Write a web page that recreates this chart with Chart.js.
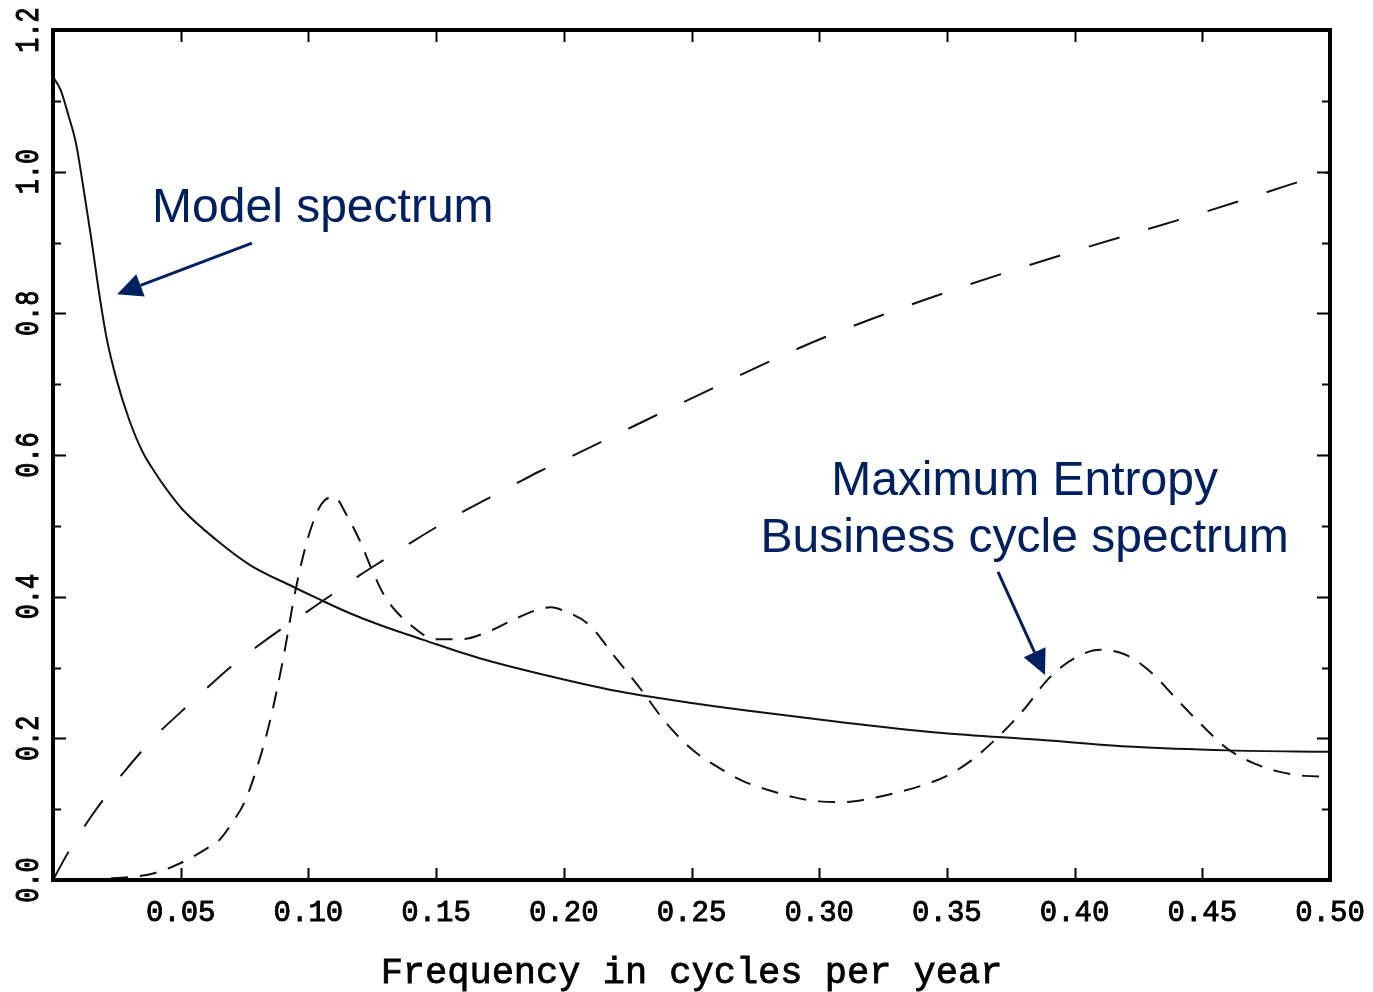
<!DOCTYPE html>
<html>
<head>
<meta charset="utf-8">
<script src="https://cdn.jsdelivr.net/npm/chart.js@4.4.1/dist/chart.umd.min.js"></script>
<style>
  html, body { margin: 0; padding: 0; background: #fff; }
  canvas { display: block; }
</style>
</head>
<body>
<canvas id="spectrum" width="1373" height="992"></canvas>
<script>
// Model spectrum (solid line)
const modelFreq  = [0.000, 0.003, 0.006, 0.009, 0.012, 0.015, 0.018, 0.021, 0.025, 0.030, 0.035, 0.040,
                    0.045, 0.051, 0.064, 0.077, 0.094, 0.105, 0.116, 0.128, 0.145, 0.167, 0.193, 0.219,
                    0.250, 0.270, 0.308, 0.347, 0.386, 0.423, 0.460, 0.500];
const modelPower = [1.134, 1.115, 1.080, 1.040, 0.975, 0.905, 0.830, 0.765, 0.705, 0.648, 0.605, 0.575,
                    0.549, 0.522, 0.480, 0.445, 0.414, 0.395, 0.377, 0.360, 0.339, 0.313, 0.289, 0.268,
                    0.250, 0.240, 0.223, 0.208, 0.198, 0.188, 0.183, 0.181];

// Maximum entropy business cycle spectrum (short dashes)
const entropyFreq  = [0.000, 0.010, 0.020, 0.030, 0.040, 0.050, 0.060, 0.065, 0.070, 0.075, 0.080, 0.085,
                      0.090, 0.095, 0.100, 0.105, 0.110, 0.115, 0.120, 0.125, 0.130, 0.140, 0.150, 0.160,
                      0.170, 0.180, 0.190, 0.195, 0.200, 0.210, 0.220, 0.230, 0.240, 0.250, 0.260, 0.270,
                      0.280, 0.290, 0.300, 0.310, 0.320, 0.330, 0.340, 0.350, 0.360, 0.370, 0.380, 0.390,
                      0.400, 0.410, 0.420, 0.430, 0.440, 0.450, 0.460, 0.470, 0.480, 0.490, 0.500];
const entropyPower = [0.000, 0.000, 0.002, 0.004, 0.010, 0.024, 0.044, 0.056, 0.080, 0.110, 0.160, 0.225,
                      0.310, 0.410, 0.485, 0.530, 0.541, 0.515, 0.480, 0.437, 0.400, 0.360, 0.340, 0.340,
                      0.350, 0.367, 0.382, 0.385, 0.380, 0.360, 0.315, 0.270, 0.222, 0.185, 0.160, 0.140,
                      0.127, 0.117, 0.111, 0.110, 0.115, 0.123, 0.133, 0.147, 0.170, 0.202, 0.240, 0.285,
                      0.313, 0.325, 0.318, 0.293, 0.255, 0.218, 0.185, 0.165, 0.153, 0.147, 0.146];

// Rising comparison curve (long dashes)
const rampFreq  = [0.000, 0.005, 0.010, 0.015, 0.020, 0.025, 0.030, 0.035, 0.040, 0.050, 0.060, 0.070,
                   0.080, 0.090, 0.100, 0.110, 0.120, 0.130, 0.140, 0.150, 0.160, 0.170, 0.180, 0.190,
                   0.200, 0.250, 0.300, 0.350, 0.400, 0.450, 0.500];
const rampPower = [0.000, 0.033, 0.063, 0.090, 0.115, 0.140, 0.162, 0.183, 0.203, 0.237, 0.270, 0.302,
                   0.330, 0.356, 0.380, 0.405, 0.430, 0.453, 0.476, 0.498, 0.519, 0.538, 0.557, 0.576,
                   0.593, 0.680, 0.763, 0.830, 0.888, 0.942, 1.000];

// Axis ticks and labels
const xTickValues = [0.05, 0.10, 0.15, 0.20, 0.25, 0.30, 0.35, 0.40, 0.45, 0.50];
const xTickLabels = ['0.05', '0.10', '0.15', '0.20', '0.25', '0.30', '0.35', '0.40', '0.45', '0.50'];
const yTickValues = [0.0, 0.2, 0.4, 0.6, 0.8, 1.0, 1.2];
const yTickLabels = ['0.0', '0.2', '0.4', '0.6', '0.8', '1.0', '1.2'];
const yMinorTickValues = [0.1, 0.3, 0.5, 0.7, 0.9, 1.1];
const xAxisTitle = 'Frequency in cycles per year';

// Callout texts and arrows, placed in data coordinates
const callouts = [
  { lines: ['Model spectrum'], x: 0.0388, y: 0.929, align: 'left' },
  { lines: ['Maximum Entropy', 'Business cycle spectrum'], x: 0.3804, y: 0.543, align: 'center' }
];
const calloutArrows = [
  { from: [0.0779, 0.899], to: [0.0251, 0.827] },
  { from: [0.3700, 0.435], to: [0.3884, 0.2894] }
];

const toPoints = (xs, ys) => xs.map((x, i) => ({ x: x, y: ys[i] }));

const INK = '#111';
const NAVY = '#002060';
const MONO = '"Liberation Mono", "DejaVu Sans Mono", monospace';
const SANS = '"Liberation Sans", Arial, sans-serif';

// draws text slightly heavier, like the printer font of the axes
function heavyText(ctx, text, x, y, weight) {
  ctx.fillText(text, x, y);
  ctx.lineWidth = weight;
  ctx.strokeText(text, x, y);
}

const axesPlugin = {
  id: 'plotFrame',
  afterDatasetsDraw(chart) {
    const { ctx, chartArea: a, scales: { x, y } } = chart;
    ctx.save();

    // inward tick marks on all four sides
    ctx.strokeStyle = '#000';
    ctx.lineWidth = 2;
    ctx.beginPath();
    xTickValues.forEach(v => {
      if (v >= 0.5) return;
      const px = Math.round(x.getPixelForValue(v)) + 0.5;
      ctx.moveTo(px, a.bottom); ctx.lineTo(px, a.bottom - 12);
      ctx.moveTo(px, a.top);    ctx.lineTo(px, a.top + 12);
    });
    yTickValues.forEach(v => {
      if (v <= 0 || v >= 1.2) return;
      const py = Math.round(y.getPixelForValue(v)) + 0.5;
      ctx.moveTo(a.left, py);  ctx.lineTo(a.left + 13, py);
      ctx.moveTo(a.right, py); ctx.lineTo(a.right - 13, py);
    });
    yMinorTickValues.forEach(v => {
      const py = Math.round(y.getPixelForValue(v)) + 0.5;
      ctx.moveTo(a.left, py);  ctx.lineTo(a.left + 8, py);
      ctx.moveTo(a.right, py); ctx.lineTo(a.right - 8, py);
    });
    ctx.stroke();

    // heavy frame
    ctx.lineWidth = 4;
    ctx.strokeRect(a.left, a.top, a.right - a.left, a.bottom - a.top);

    // x tick labels
    ctx.fillStyle = '#000';
    ctx.strokeStyle = '#000';
    ctx.font = '29px ' + MONO;
    ctx.textAlign = 'center';
    ctx.textBaseline = 'middle';
    xTickValues.forEach((v, i) => {
      heavyText(ctx, xTickLabels[i], x.getPixelForValue(v), a.bottom + 33, 0.9);
    });

    // y tick labels, rotated to read upward
    ctx.font = '34px ' + MONO;
    yTickValues.forEach((v, i) => {
      ctx.save();
      ctx.translate(28, y.getPixelForValue(v));
      ctx.rotate(-Math.PI / 2);
      ctx.scale(0.74, 1);
      heavyText(ctx, yTickLabels[i], 0, 1, 1.1);
      ctx.restore();
    });

    // axis title
    ctx.font = '37px ' + MONO;
    heavyText(ctx, xAxisTitle, (a.left + a.right) / 2, a.bottom + 93, 0.8);
    ctx.restore();
  },
  afterDraw(chart) {
    const { ctx, scales: { x, y } } = chart;
    ctx.save();
    ctx.fillStyle = NAVY;
    ctx.strokeStyle = NAVY;
    ctx.font = '48px ' + SANS;
    ctx.textBaseline = 'alphabetic';
    callouts.forEach(c => {
      ctx.textAlign = c.align;
      const px = x.getPixelForValue(c.x);
      const py = y.getPixelForValue(c.y);
      c.lines.forEach((line, k) => ctx.fillText(line, px, py + k * 57));
    });

    calloutArrows.forEach(ar => {
      const x0 = x.getPixelForValue(ar.from[0]), y0 = y.getPixelForValue(ar.from[1]);
      const x1 = x.getPixelForValue(ar.to[0]),   y1 = y.getPixelForValue(ar.to[1]);
      const ang = Math.atan2(y1 - y0, x1 - x0);
      const head = 25, half = 12;
      const bx = x1 - head * Math.cos(ang), by = y1 - head * Math.sin(ang);
      ctx.lineWidth = 3;
      ctx.beginPath();
      ctx.moveTo(x0, y0);
      ctx.lineTo(bx, by);
      ctx.stroke();
      ctx.beginPath();
      ctx.moveTo(x1, y1);
      ctx.lineTo(bx + half * Math.sin(ang), by - half * Math.cos(ang));
      ctx.lineTo(bx - half * Math.sin(ang), by + half * Math.cos(ang));
      ctx.closePath();
      ctx.fill();
    });
    ctx.restore();
  }
};

new Chart(document.getElementById('spectrum'), {
  type: 'line',
  data: {
    datasets: [
      {
        label: 'Model spectrum',
        data: toPoints(modelFreq, modelPower),
        borderColor: INK, borderWidth: 2, cubicInterpolationMode: 'monotone'
      },
      {
        label: 'Maximum Entropy business cycle spectrum',
        data: toPoints(entropyFreq, entropyPower),
        borderColor: INK, borderWidth: 2, borderDash: [17, 12], cubicInterpolationMode: 'monotone'
      },
      {
        label: 'Comparison curve',
        data: toPoints(rampFreq, rampPower),
        borderColor: INK, borderWidth: 2, borderDash: [32, 30], cubicInterpolationMode: 'monotone'
      }
    ]
  },
  options: {
    responsive: false,
    animation: false,
    devicePixelRatio: 1,
    layout: { padding: { left: 53, right: 43, top: 30, bottom: 112 } },
    elements: { point: { radius: 0 } },
    plugins: { legend: { display: false }, tooltip: { enabled: false } },
    scales: {
      x: { type: 'linear', min: 0, max: 0.5, display: false },
      y: { type: 'linear', min: 0, max: 1.2, display: false }
    }
  },
  plugins: [axesPlugin]
});
</script>
</body>
</html>
